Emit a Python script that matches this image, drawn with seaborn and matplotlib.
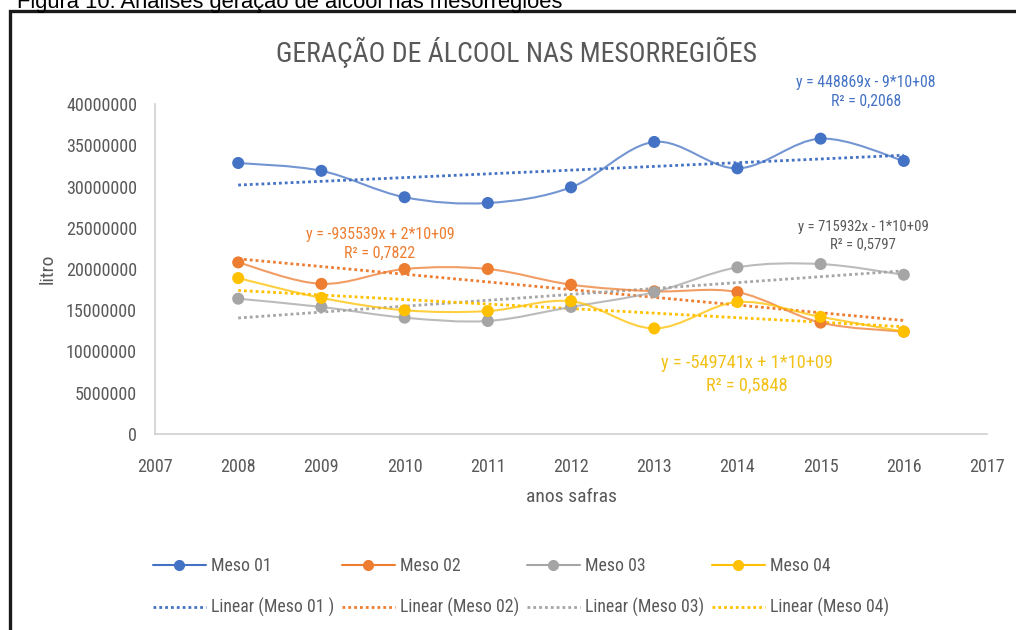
import matplotlib
matplotlib.use("Agg")
import matplotlib.pyplot as plt
from matplotlib.path import Path
from matplotlib.patches import PathPatch, Rectangle
from matplotlib.lines import Line2D
import seaborn as sns
import numpy as np
import pandas as pd

sns.set_style("white")
plt.rcParams['font.family'] = ['Liberation Sans Narrow', 'Roboto Condensed', 'Noto Sans Condensed',
                               'DejaVu Sans Condensed', 'Open Sans Condensed', 'Liberation Sans', 'DejaVu Sans']
plt.rcParams['font.stretch'] = 'condensed'

years = [2008, 2009, 2010, 2011, 2012, 2013, 2014, 2015, 2016]
meso01 = [32850000, 31900000, 28700000, 28000000, 29900000, 35400000, 32200000, 35800000, 33100000]
meso02 = [20800000, 18200000, 20000000, 20000000, 18100000, 17300000, 17200000, 13500000, 12400000]
meso03 = [16400000, 15400000, 14100000, 13700000, 15400000, 17200000, 20200000, 20600000, 19300000]
meso04 = [18900000, 16500000, 15000000, 14900000, 16100000, 12800000, 16000000, 14200000, 12400000]
series_names = ['Meso 01', 'Meso 02', 'Meso 03', 'Meso 04']
trend_names = ['Linear (Meso 01 )', 'Linear (Meso 02)', 'Linear (Meso 03)', 'Linear (Meso 04)']
equations = ['y = 448869x - 9*10+08\nR² = 0,2068',
             'y = -935539x + 2*10+09\nR² = 0,7822',
             'y = 715932x - 1*10+09\nR² = 0,5797',
             'y = -549741x + 1*10+09\nR² = 0,5848']
colors = ['#4472C4', '#ED7D31', '#A5A5A5', '#FFC000']
eq_colors = ['#4472C4', '#ED7D31', '#595959', '#F2C21A']

df = pd.DataFrame({
    'ano': years * 4,
    'litro': meso01 + meso02 + meso03 + meso04,
    'meso': [n for n in series_names for _ in years],
})


def smooth_path(xs, ys):
    # Excel-like smoothed line: Catmull-Rom segments as cubic Bezier
    pts = np.column_stack([xs, ys]).astype(float)
    verts = [pts[0]]
    codes = [Path.MOVETO]
    n = len(pts)
    for i in range(n - 1):
        p0 = pts[i - 1] if i > 0 else pts[i]
        p1 = pts[i]
        p2 = pts[i + 1]
        p3 = pts[i + 2] if i + 2 < n else pts[i + 1]
        c1 = p1 + (p2 - p0) / 6.0
        c2 = p2 - (p3 - p1) / 6.0
        verts += [c1, c2, p2]
        codes += [Path.CURVE4] * 3
    return Path(verts, codes)


fig = plt.figure(figsize=(10.16, 6.3), dpi=100)
ax = fig.add_axes([155 / 1016, 1 - 434 / 630, 832 / 1016, 330 / 630])

for name, col in zip(series_names, colors):
    sub = df[df['meso'] == name]
    sns.regplot(x='ano', y='litro', data=sub, ax=ax, ci=None, scatter=False,
                color=col, line_kws=dict(linestyle=(0, (1, 1.1)), lw=2.0, zorder=2))
    ax.add_patch(PathPatch(smooth_path(sub['ano'], sub['litro']), facecolor='none',
                           edgecolor=col, lw=1.5, alpha=0.75, zorder=3))

sns.scatterplot(x='ano', y='litro', hue='meso', data=df, palette=colors, s=75,
                edgecolor='none', legend=False, ax=ax, zorder=4)

ax.set_xlim(2007, 2017)
ax.set_ylim(0, 40000000)
ax.set_xticks(range(2007, 2018))
ax.set_yticks(range(0, 40000001, 5000000))
ax.ticklabel_format(axis='y', style='plain', useOffset=False)
ax.tick_params(axis='both', length=0, labelsize=13, labelcolor='#595959')
ax.tick_params(axis='y', pad=13)
ax.tick_params(axis='x', pad=17)
for s in ['top', 'right']:
    ax.spines[s].set_visible(False)
for s in ['left', 'bottom']:
    ax.spines[s].set_color('#D0D0D0')
    ax.spines[s].set_linewidth(1.2)

ax.set_xlabel('anos safras', fontsize=14, color='#595959')
ax.set_ylabel('litro', fontsize=14, color='#595959')
ax.xaxis.set_label_coords(0.5, -0.163)
ax.yaxis.set_label_coords(-0.118, 0.5)

# trendline equations
eq_pos = [(866, 92), (380, 244), (863, 236), (747, 374)]
eq_size = [11.3, 11.5, 10.6, 13.2]
for txt, (px, py), c, fs in zip(equations, eq_pos, eq_colors, eq_size):
    fig.text(px / 1016, 1 - py / 630, txt, ha='center', va='center', color=c,
             fontsize=fs, linespacing=1.3)

fig.text(517 / 1016, 1 - 52 / 630, 'GERAÇÃO DE ÁLCOOL NAS MESORREGIÕES',
         ha='center', va='center', fontsize=20, color='#595959')

# legend: row 1 series, row 2 linear trends
handles, labels = [], []
for name, tname, col in zip(series_names, trend_names, colors):
    handles.append(Line2D([], [], color=col, lw=1.5, marker='o', markersize=7))
    labels.append(name)
    handles.append(Line2D([], [], color=col, lw=2.0, linestyle=(0, (1, 1.1))))
    labels.append(tname)
fig.legend(handles, labels, ncol=4, loc='center', bbox_to_anchor=(521 / 1016, 1 - 587 / 630),
           frameon=False, fontsize=12.8, handlelength=3.0, handletextpad=0.3,
           columnspacing=0.4, labelspacing=1.3, labelcolor='#595959')

# caption above the framed chart
fig.text(17 / 1016, 1 - 8 / 630, 'Figura 10: Análises geração de álcool nas mesorregiões',
         ha='left', va='baseline', fontsize=15.8, color='black',
         family=['Liberation Sans', 'DejaVu Sans'], stretch='normal')
fig.add_artist(Rectangle((10 / 1016, -0.1), 1.2, 1.1 - 11 / 630, transform=fig.transFigure,
                         fill=False, edgecolor='#1a1a1a', lw=2.4, clip_on=False))

fig.savefig('out.png', dpi=100)
